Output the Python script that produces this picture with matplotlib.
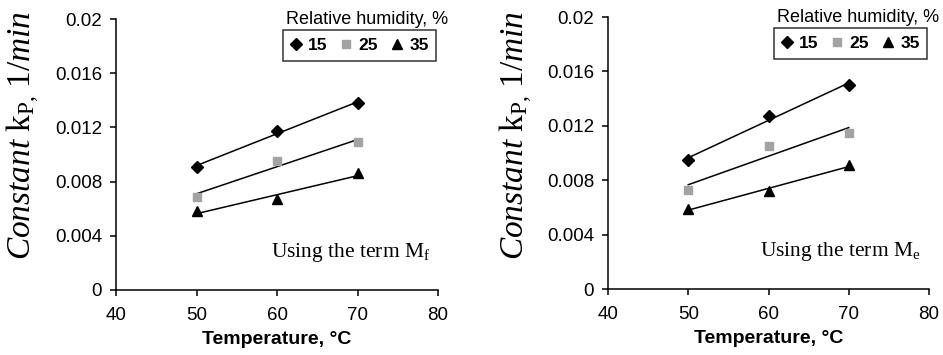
import matplotlib
matplotlib.use("Agg")
import matplotlib.pyplot as plt
import numpy as np

# ========================= data ========================= #
temperature = [50, 60, 70]
humidity = ["15", "25", "35"]

# rate constant k_P (1/min), term M_f
kp_mf_15 = [0.0091, 0.0117, 0.0138]
kp_mf_25 = [0.0069, 0.0095, 0.0109]
kp_mf_35 = [0.0058, 0.0067, 0.0086]

# rate constant k_P (1/min), term M_e
kp_me_15 = [0.0095, 0.0127, 0.0150]
kp_me_25 = [0.0073, 0.0105, 0.0115]
kp_me_35 = [0.0059, 0.0072, 0.0091]

xticks = [40, 50, 60, 70, 80]
yticks = [0, 0.004, 0.008, 0.012, 0.016, 0.02]
yticklabels = ["0", "0.004", "0.008", "0.012", "0.016", "0.02"]
# ======================================================== #

plt.rcParams["font.family"] = "Liberation Sans"
plt.rcParams["mathtext.fontset"] = "custom"
plt.rcParams["mathtext.rm"] = "Liberation Serif"
plt.rcParams["mathtext.it"] = "Liberation Serif:italic"

markers = ["D", "s", "^"]
mcolors = ["black", "#a3a3a3", "black"]
msizes = [6.5, 6, 7]

fig = plt.figure(figsize=(9.43, 3.55), dpi=100)

panels = [
    ([116, 19, 438, 290], [kp_mf_15, kp_mf_25, kp_mf_35], "f", 23),
    ([608, 17, 929, 289], [kp_me_15, kp_me_25, kp_me_35], "e", 516),
]

W, H = 943.0, 355.0
for (x0, y0, x1, y1), series, sub, ylab_x in panels:
    ax = fig.add_axes([x0 / W, 1 - y1 / H, (x1 - x0) / W, (y1 - y0) / H])
    handles = []
    for vals, m, c, ms, lab in zip(series, markers, mcolors, msizes, humidity):
        # least-squares trend line over the measured range
        coef = np.polyfit(temperature, vals, 1)
        xs = np.array([temperature[0], temperature[-1]])
        ax.plot(xs, np.polyval(coef, xs), color="black", lw=1.1, zorder=2)
        h, = ax.plot(temperature, vals, ls="none", marker=m, color=c,
                     markersize=ms, zorder=3, label=lab)
        handles.append(h)

    ax.set_xlim(40, 80)
    ax.set_ylim(0, 0.02)
    ax.set_xticks(xticks)
    ax.set_yticks(yticks)
    ax.set_yticklabels(yticklabels)
    ax.spines["top"].set_visible(False)
    ax.spines["right"].set_visible(False)
    for s in ["left", "bottom"]:
        ax.spines[s].set_linewidth(1.1)
    ax.tick_params(direction="out", length=4, width=1.1, labelsize=13.5,
                   colors="black")
    ax.tick_params(axis="x", pad=8)
    ax.tick_params(axis="y", pad=6)

    ax.set_xlabel("Temperature, °C", fontsize=14, fontweight="bold", labelpad=5)
    fig.text(ylab_x / W, 1 - 135 / H,
             r"$\mathit{Constant}\ \mathrm{k_{P,}}\,\mathrm{1/}\mathit{min}$",
             rotation=90, ha="center", va="center", fontsize=24)

    ax.text(0.975, 0.12, "Using the term M$_\\mathrm{" + sub + "}$",
            transform=ax.transAxes, ha="right", va="baseline",
            fontsize=15.5, family="Liberation Serif")

    ax.text(1.03, 1.0, "Relative humidity, %", transform=ax.transAxes,
            ha="right", va="center", fontsize=13)
    leg = ax.legend(handles=handles, ncol=3, loc="upper right",
                    bbox_to_anchor=(0.995, 0.958), frameon=True, fancybox=False,
                    edgecolor="black", handlelength=0.6, handletextpad=0.4,
                    columnspacing=0.8, borderpad=0.45, borderaxespad=0,
                    prop={"weight": "bold", "size": 12.5})
    leg.get_frame().set_linewidth(1.1)

fig.savefig("out.png", dpi=100)
